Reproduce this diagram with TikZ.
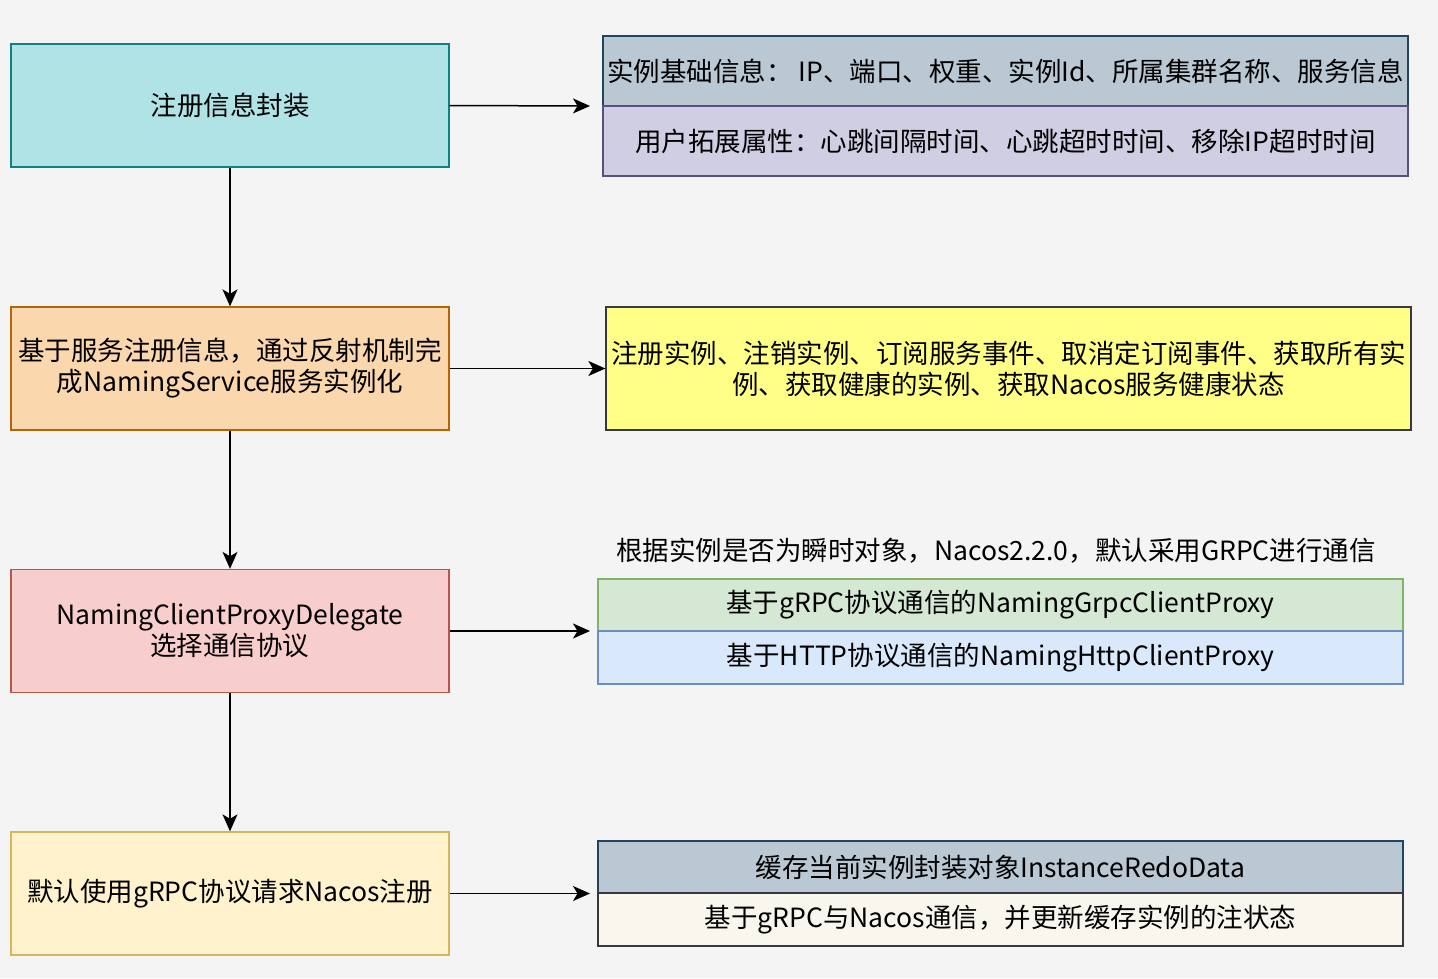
\documentclass[tikz,border=0pt]{standalone}
\usepackage{fontspec}
\setmainfont{Noto Sans CJK SC}
\usetikzlibrary{arrows.meta}
\definecolor{bg}{HTML}{F4F4F4}
\definecolor{tealF}{HTML}{B0E3E6}\definecolor{tealD}{HTML}{0E8088}
\definecolor{orF}{HTML}{FAD7AC}\definecolor{orD}{HTML}{B46504}
\definecolor{redF}{HTML}{F8CECC}\definecolor{redD}{HTML}{B85450}
\definecolor{ylF}{HTML}{FFF2CC}\definecolor{ylD}{HTML}{D6B656}
\definecolor{slF}{HTML}{BAC8D3}\definecolor{slD}{HTML}{23445D}
\definecolor{puF}{HTML}{D0CEE2}\definecolor{puD}{HTML}{56517E}
\definecolor{noteF}{HTML}{FFFF88}\definecolor{noteD}{HTML}{36393D}
\definecolor{grF}{HTML}{D5E8D4}\definecolor{grD}{HTML}{82B366}
\definecolor{blF}{HTML}{DAE8FC}\definecolor{blD}{HTML}{6C8EBF}
\definecolor{crF}{HTML}{F9F7ED}
\begin{document}
\begin{tikzpicture}[x=1pt,y=-1pt,
  txt/.style={font=\fontsize{26.5}{31}\selectfont, align=center, inner sep=0pt},
  box/.style={txt, draw, line width=1.3pt, minimum width=438pt, minimum height=123pt},
  rbox/.style={txt, draw, line width=1.3pt, minimum width=805pt},
  arr/.style={line width=1.5pt, -{Stealth[length=17pt, width=15pt, inset=4.5pt]}}]
\useasboundingbox[fill=bg] (0,0) rectangle (1438,978);
% left column
\node[box, fill=tealF, draw=tealD] (b1) at (230,105.5) {注册信息封装};
\node[box, fill=orF, draw=orD] (b2) at (230,368.5) {基于服务注册信息，通过反射机制完\\成NamingService服务实例化};
\node[box, fill=redF, draw=redD] (b3) at (230,631) {NamingClientProxyDelegate\\选择通信协议};
\node[box, fill=ylF, draw=ylD] (b4) at (230,893.5) {默认使用gRPC协议请求Nacos注册};
% right column
\node[rbox, fill=slF, draw=slD, minimum height=70pt] (r1a) at (1005.5,71) {实例基础信息：\ IP、端口、权重、实例Id、所属集群名称、服务信息};
\node[rbox, fill=puF, draw=puD, minimum height=70pt] (r1b) at (1005.5,141) {用户拓展属性：心跳间隔时间、心跳超时时间、移除IP超时时间};
\node[rbox, fill=noteF, draw=noteD, minimum height=123pt] (r2) at (1008.5,368.5) {注册实例、注销实例、订阅服务事件、取消定订阅事件、获取所有实\\例、获取健康的实例、获取Nacos服务健康状态};
\node[txt] (lbl) at (996,551) {根据实例是否为瞬时对象，Nacos2.2.0，默认采用GRPC进行通信};
\node[rbox, fill=grF, draw=grD, minimum height=52pt] (r3a) at (1000.5,605) {基于gRPC协议通信的NamingGrpcClientProxy};
\node[rbox, fill=blF, draw=blD, minimum height=53pt] (r3b) at (1000.5,657.5) {基于HTTP协议通信的NamingHttpClientProxy};
\node[rbox, fill=slF, draw=slD, minimum height=52pt] (r4a) at (1000.5,867) {缓存当前实例封装对象InstanceRedoData};
\node[rbox, fill=crF, draw=noteD, minimum height=53pt] (r4b) at (1000.5,919.5) {基于gRPC与Nacos通信，并更新缓存实例的注状态};
% free ends
\coordinate (e1) at (590,106);
\coordinate (e3) at (590,631);
\coordinate (e4) at (590,893.5);
% arrows
\draw[arr] (b1) -- (b2);
\draw[arr] (b2) -- (b3);
\draw[arr] (b3) -- (b4);
\draw[arr] (b1.east) -- (e1);
\draw[arr] (b2.east) -- (r2.west);
\draw[arr] (b3.east) -- (e3);
\draw[arr] (b4.east) -- (e4);
\end{tikzpicture}
\end{document}
